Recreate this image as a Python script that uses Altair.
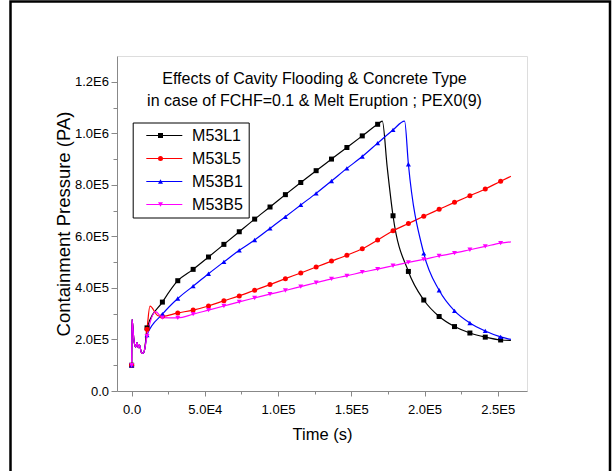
import altair as alt
import pandas as pd

# ---------------- data ----------------
names = ["M53L1", "M53L5", "M53B1", "M53B5"]
colors = ["#000000", "#FF0000", "#0000FF", "#FF00FF"]
shapes = ["square", "circle", "triangle-up", "triangle-down"]

# common early transient (time s, pressure Pa)
tr_t = [0, 250, 1500, 2700, 3700, 4600, 5400, 6600, 7900, 9000]
tr_p = [1.0e5, 2.78e5, 2.0e5, 1.7e5, 1.88e5, 1.68e5, 1.78e5, 1.5e5, 1.46e5, 1.65e5]

l1_t = [10500, 21000, 31500, 42000, 52500, 63000, 73500, 84000, 94500, 105000, 115500,
        126000, 136500, 147000, 157500, 168000, 171200, 174500, 178500, 189000, 199500,
        210000, 220500, 231000, 241500, 252000, 259000]
l1_p = [2.45e5, 3.45e5, 4.28e5, 4.72e5, 5.2e5, 5.69e5, 6.18e5, 6.67e5, 7.14e5, 7.62e5, 8.09e5,
        8.55e5, 9.0e5, 9.45e5, 9.9e5, 1.035e6, 1.047e6, 8.7e5, 6.8e5, 4.64e5, 3.53e5,
        2.89e5, 2.5e5, 2.25e5, 2.09e5, 1.98e5, 1.96e5]

l5_t = [10500, 12500, 18000, 21000, 31500, 42000, 52500, 63000, 73500, 84000, 94500,
        105000, 115500, 126000, 136500, 147000, 157500, 168000, 178500, 189000, 199500,
        210000, 220500, 231000, 241500, 252000, 259000]
l5_p = [2.4e5, 3.29e5, 2.92e5, 2.9e5, 3.03e5, 3.14e5, 3.3e5, 3.5e5, 3.69e5, 3.91e5, 4.13e5,
        4.36e5, 4.58e5, 4.81e5, 5.04e5, 5.27e5, 5.52e5, 5.86e5, 6.22e5, 6.5e5, 6.78e5,
        7.05e5, 7.32e5, 7.58e5, 7.84e5, 8.14e5, 8.33e5]

b1_t = [10500, 21000, 31500, 42000, 52500, 63000, 73500, 84000, 94500, 105000, 115500,
        126000, 136500, 147000, 157500, 168000, 178500, 186400, 189000, 199500, 210000,
        220500, 231000, 241500, 252000, 259000]
b1_p = [2.17e5, 2.98e5, 3.59e5, 4.07e5, 4.55e5, 5.01e5, 5.46e5, 5.86e5, 6.31e5, 6.76e5, 7.22e5,
        7.67e5, 8.15e5, 8.64e5, 9.1e5, 9.62e5, 1.013e6, 1.047e6, 8.8e5, 5.34e5, 3.91e5,
        3.11e5, 2.64e5, 2.33e5, 2.1e5, 2.0e5]

b5_t = [10500, 16400, 21000, 31500, 42000, 52500, 63000, 73500, 84000, 94500, 105000,
        115500, 126000, 136500, 147000, 157500, 168000, 178500, 189000, 199500, 210000,
        220500, 231000, 241500, 252000, 259000]
b5_p = [2.13e5, 3.08e5, 2.85e5, 2.84e5, 2.98e5, 3.14e5, 3.3e5, 3.46e5, 3.61e5, 3.76e5, 3.9e5,
        4.05e5, 4.2e5, 4.35e5, 4.47e5, 4.61e5, 4.73e5, 4.86e5, 4.99e5, 5.11e5, 5.24e5,
        5.35e5, 5.48e5, 5.61e5, 5.74e5, 5.79e5]

marker_step = 10500  # symbols drawn on every point lying on this time grid

x_major = [0, 50000, 100000, 150000, 200000, 250000]
x_minor = [25000, 75000, 125000, 175000, 225000]
y_major = [0, 200000, 400000, 600000, 800000, 1000000, 1200000]
y_minor = [100000, 300000, 500000, 700000, 900000, 1100000]

title_lines = ["Effects of Cavity Flooding & Concrete Type",
               "in case of FCHF=0.1 & Melt Eruption ; PEX0(9)"]

# ---------------- tables ----------------
names_m = [n + " " for n in names]   # separate key for the symbol legend
series = [(names[0], names_m[0], l1_t, l1_p), (names[1], names_m[1], l5_t, l5_p),
          (names[2], names_m[2], b1_t, b1_p), (names[3], names_m[3], b5_t, b5_p)]
line_rows, pt_rows = [], []
for name, name_m, ts, ps in series:
    for t, p in zip(tr_t + ts, tr_p + ps):
        line_rows.append({"t": t, "p": p, "series": name})
        if t % marker_step == 0:
            pt_rows.append({"t": t, "p": p, "series_m": name_m})
line_df = pd.DataFrame(line_rows)
pt_df = pd.DataFrame(pt_rows)

FONT = "Liberation Sans"
LABEL_EXPR = ("datum.value == 0 ? '0.0' : format(datum.value / pow(10, floor(log(datum.value) / LN10 + 1e-9)), '.1f')"
              " + 'E' + floor(log(datum.value) / LN10 + 1e-9)")

xs = alt.Scale(domain=[-10000, 270000], nice=False, zero=False)
ys = alt.Scale(domain=[0, 1300000], nice=False)

x_axis_major = alt.Axis(orient="bottom", values=x_major, labelExpr=LABEL_EXPR, tickSize=5,
                        labelPadding=7, labelFontSize=13, labelFont=FONT, title="Time (s)",
                        titleFont=FONT, titleFontSize=16.5, titleFontWeight="normal",
                        titlePadding=10, labelOverlap=False, grid=False)
y_axis_major = alt.Axis(orient="left", values=y_major, labelExpr=LABEL_EXPR, tickSize=6,
                        labelPadding=2.5, labelFontSize=13, labelFont=FONT,
                        title="Containment Pressure (PA)", titleFont=FONT, titleFontSize=18.5,
                        titleFontWeight="normal", titlePadding=1, labelOverlap=False, grid=False)
x_axis_minor = alt.Axis(orient="bottom", values=x_minor, tickSize=3, labels=False,
                        domain=False, title=None, grid=False)
y_axis_minor = alt.Axis(orient="left", values=y_minor, tickSize=4, labels=False,
                        domain=False, title=None, grid=False)

# legend line sample: a short horizontal path (drawn to the right of the symbol slot)
line_legend = alt.Legend(orient="none", legendX=15.7, legendY=66.5, title=None,
                         strokeColor="black", padding=5, labelFont=FONT, labelFontSize=16,
                         labelColor="black", labelOffset=38.4, symbolType="M0.2,0H12.2",
                         symbolSize=36, symbolStrokeWidth=1.2, rowPadding=7)
# symbol-only legend laid over the line samples (blank labels keep the same row height)
pt_legend = alt.Legend(orient="none", legendX=30.5, legendY=66.5, title=None,
                       padding=5, labelFont=FONT, labelFontSize=16, labelOpacity=0,
                       labelExpr="' '", labelOffset=5.6, symbolSize=25, symbolStrokeWidth=0,
                       rowPadding=7)

frame = alt.Chart(alt.Data(values=[{"f": 1}])).mark_rect(
    fillOpacity=0, stroke="black", strokeWidth=2.5
).encode(x=alt.value(-106.5), x2=alt.value(493), y=alt.value(-54.5), y2=alt.value(440))

lines = alt.Chart(line_df).mark_line(interpolate="monotone", strokeWidth=1.2).encode(
    x=alt.X("t:Q", scale=xs, axis=x_axis_major),
    y=alt.Y("p:Q", scale=ys, axis=y_axis_major),
    color=alt.Color("series:N", scale=alt.Scale(domain=names, range=colors), legend=line_legend),
)

points = alt.Chart(pt_df).mark_point(filled=True, size=25, opacity=1).encode(
    x=alt.X("t:Q", scale=xs, axis=x_axis_minor),
    y=alt.Y("p:Q", scale=ys, axis=y_axis_minor),
    fill=alt.Fill("series_m:N", scale=alt.Scale(domain=names_m, range=colors), legend=pt_legend),
    shape=alt.Shape("series_m:N", scale=alt.Scale(domain=names_m, range=shapes), legend=pt_legend),
)

chart = alt.layer(frame, lines, points).resolve_axis(
    x="independent", y="independent"
).properties(
    width=410, height=335,
    autosize=alt.AutoSizeParams(type="none"),
    padding={"left": 117, "top": 56, "right": 86, "bottom": 80},
    title=alt.TitleParams(text=title_lines, anchor="middle", frame="group", font=FONT,
                          fontSize=16, fontWeight="normal", color="black", lineHeight=21.7,
                          offset=0, dy=108.6, dx=-7.5),
).configure_view(
    stroke="black", strokeWidth=1.5
).configure_axis(
    domainColor="black", domainWidth=1.5, tickColor="black", tickWidth=1.2,
    labelColor="black", titleColor="black", labelFont=FONT, titleFont=FONT,
    titleFontWeight="normal"
).configure(background="white")

chart.save("out.html", embed_options={"renderer": "svg", "actions": False})
